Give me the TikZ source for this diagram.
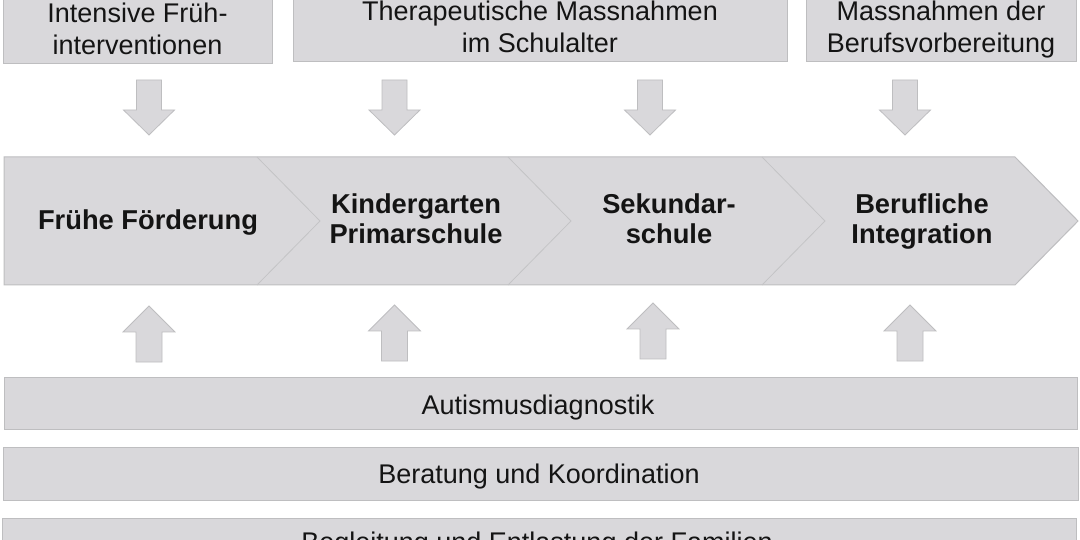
\documentclass[tikz,border=0pt]{standalone}
\usepackage{fontspec}
\setmainfont{Liberation Sans}
\definecolor{boxfill}{RGB}{217,216,219}
\definecolor{boxline}{RGB}{190,190,192}
\definecolor{divline}{RGB}{196,196,198}
\definecolor{txt}{RGB}{20,20,20}
\begin{document}
\begin{tikzpicture}[x=1pt,y=-1pt,
  box/.style={fill=boxfill,draw=boxline,line width=1pt},
  arr/.style={fill=boxfill,draw=boxline,line width=0.8pt,line join=miter},
  reg/.style={font=\fontsize{27}{32.5}\selectfont,text=txt,inner sep=0pt,align=center},
  bld/.style={font=\fontsize{27.3}{30}\selectfont\bfseries,text=txt,inner sep=0pt,align=center},
  downarr/.pic={\path[arr] (-12.5,0) -- (12.5,0) -- (12.5,30) -- (25.5,30) -- (0,55) -- (-25.5,30) -- (-12.5,30) -- cycle;},
  uparr/.pic={\path[arr] (0,0) -- (26,26) -- (13,26) -- (13,56) -- (-13,56) -- (-13,26) -- (-26,26) -- cycle;}
]
\useasboundingbox (0,0) rectangle (1080,540);
\clip (0,0) rectangle (1080,540);
\fill[white] (0,0) rectangle (1080,540);

% top boxes
\path[box] (3,-20) rectangle (272,64);
\path[box] (293,-20) rectangle (787,62);
\path[box] (806,-20) rectangle (1076,62);
\node[reg] (t1) at (137.5,32) {\strut Intensive Früh-\\\strut interventionen};
\node[reg] (t2) at (540,30) {\strut Therapeutische Massnahmen\\\strut im Schulalter};
\node[reg] (t3) at (941,30) {\strut Massnahmen der\\\strut Berufsvorbereitung};

% down arrows
\pic at (149,80) {downarr};
\pic at (394.5,80) {downarr};
\pic at (650,80) {downarr};
\pic at (905,80) {downarr};

% chevron band
\path[box] (4,157) -- (1015,157) -- (1078,221) -- (1015,285) -- (4,285) -- cycle;
\draw[divline,line width=0.8pt] (257,157) -- (320,221) -- (257,285);
\draw[divline,line width=0.8pt] (508,157) -- (571,221) -- (508,285);
\draw[divline,line width=0.8pt] (762,157) -- (825,221) -- (762,285);
\node[bld,anchor=base] (s1) at (148,230) {Frühe Förderung};
\node[bld] (s2) at (416,222.5) {\strut Kindergarten\\\strut Primarschule};
\node[bld] (s3) at (669,222.5) {\strut Sekundar-\\\strut schule};
\node[bld] (s4) at (922,222.5) {\strut Berufliche\\\strut Integration};

% up arrows
\pic at (149,306) {uparr};
\pic at (394.5,305) {uparr};
\pic at (653,303) {uparr};
\pic at (910,305) {uparr};

% bars
\path[box] (4,377) rectangle (1077,429);
\path[box] (3,447) rectangle (1078,500);
\path[box] (2,518) rectangle (1076,570);
\node[reg,anchor=base] (b1) at (538,414) {Autismusdiagnostik};
\node[reg,anchor=base] (b2) at (539,483) {Beratung und Koordination};
\node[reg,anchor=base] (b3) at (537,551) {Begleitung und Entlastung der Familien};
\end{tikzpicture}
\end{document}
